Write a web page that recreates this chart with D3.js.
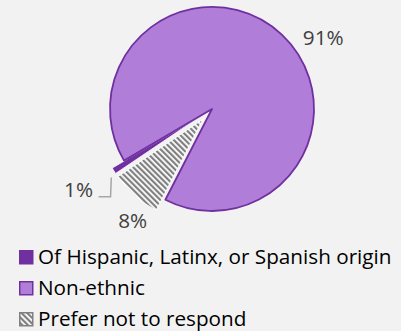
<!DOCTYPE html>
<html>
<head>
<meta charset="utf-8">
<script src="https://cdn.jsdelivr.net/npm/d3@7"></script>
<style>
  html, body { margin: 0; padding: 0; background: #F2F2F2; }
  svg { display: block; font-family: "Open Sans", sans-serif; }
</style>
</head>
<body>
<div id="chart"></div>
<script>
// data
var categories = ['Of Hispanic, Latinx, or Spanish origin', 'Non-ethnic', 'Prefer not to respond'];
var values = [1, 91, 8];
var valueLabels = ['1%', '91%', '8%'];
var exploded = [true, false, true];

var width = 401,
    height = 331,
    cx = 212,
    cy = 109,
    radius = 102,
    explode = 14;

var fills = ['#7030A0', '#B07ED8', 'url(#hatch)'];
var strokes = ['#FFFFFF', '#7030A0', '#FFFFFF'];

// label placement, polar (deg clockwise from top, distance from centre)
var labelPolar = [
  { a: 238.8, r: 156 },
  { a: 57.4, r: 132 },
  { a: 215.4, r: 137 }
];

var svg = d3.select('#chart').append('svg')
    .attr('width', width)
    .attr('height', height)
    .style('background', '#F2F2F2');

var defs = svg.append('defs');
var pat = defs.append('pattern')
    .attr('id', 'hatch')
    .attr('patternUnits', 'userSpaceOnUse')
    .attr('width', 4)
    .attr('height', 4)
    .attr('patternTransform', 'rotate(-45)');
pat.append('rect').attr('width', 4).attr('height', 4).attr('fill', '#FFFFFF');
pat.append('rect').attr('width', 2.2).attr('height', 4).attr('fill', '#7F7F7F');

var pie = d3.pie()
    .sort(null)
    .value(function(d) { return d; })
    .startAngle(236 * Math.PI / 180)
    .endAngle(236 * Math.PI / 180 + 2 * Math.PI);

var arcs = pie(values);

var arc = d3.arc()
    .innerRadius(0)
    .outerRadius(radius);

function shift(d, i) {
  if (!exploded[i]) return [0, 0];
  var mid = (d.startAngle + d.endAngle) / 2;
  return [Math.sin(mid) * explode, -Math.cos(mid) * explode];
}

var g = svg.append('g')
    .attr('transform', 'translate(' + cx + ',' + cy + ')');

g.selectAll('path.slice')
  .data(arcs)
  .enter().append('path')
    .attr('class', 'slice')
    .attr('d', arc)
    .attr('transform', function(d, i) {
      var s = shift(d, i);
      return 'translate(' + s[0] + ',' + s[1] + ')';
    })
    .attr('fill', function(d, i) { return fills[i]; })
    .attr('stroke', function(d, i) { return strokes[i]; })
    .attr('stroke-width', function(d, i) { return exploded[i] ? 0.8 : 1.8; })
    .attr('stroke-linejoin', 'round');

// labels
function polar(p) {
  var a = p.a * Math.PI / 180;
  return [Math.sin(a) * p.r, -Math.cos(a) * p.r];
}

g.selectAll('text.pct')
  .data(arcs)
  .enter().append('text')
    .attr('class', 'pct')
    .attr('x', function(d, i) { return polar(labelPolar[i])[0]; })
    .attr('y', function(d, i) { return polar(labelPolar[i])[1]; })
    .attr('dy', '0.35em')
    .attr('text-anchor', 'middle')
    .style('font-size', '20.7px')
    .style('fill', '#404040')
    .text(function(d, i) { return valueLabels[i]; });

// leader line for the small slice
var h = arcs[0];
var hs = shift(h, 0);
var hMid = (h.startAngle + h.endAngle) / 2;
var lp = polar(labelPolar[0]);
var tip = [Math.sin(hMid) * (radius + 3) + hs[0], -Math.cos(hMid) * (radius + 3) + hs[1] + 5];
g.append('polyline')
    .attr('points', [[lp[0] + 20, lp[1] + 7], [lp[0] + 32, lp[1] + 7], tip].map(function(p) { return p.join(','); }).join(' '))
    .attr('fill', 'none')
    .attr('stroke', '#A6A6A6')
    .attr('stroke-width', 1.5);

// legend
var legend = svg.append('g')
    .attr('transform', 'translate(19,250)');

var rows = legend.selectAll('g')
  .data(categories)
  .enter().append('g')
    .attr('transform', function(d, i) { return 'translate(0,' + (i * 31) + ')'; });

rows.append('rect')
    .attr('x', 0.75)
    .attr('y', 0.75)
    .attr('width', 13)
    .attr('height', 13)
    .attr('fill', function(d, i) { return fills[i]; })
    .attr('stroke', function(d, i) { return i === 2 ? '#808080' : '#7030A0'; })
    .attr('stroke-width', 1.5);

rows.append('text')
    .attr('x', 19)
    .attr('y', 14)
    .style('font-size', '20.7px')
    .style('fill', '#000000')
    .text(function(d) { return d; });
</script>
</body>
</html>
